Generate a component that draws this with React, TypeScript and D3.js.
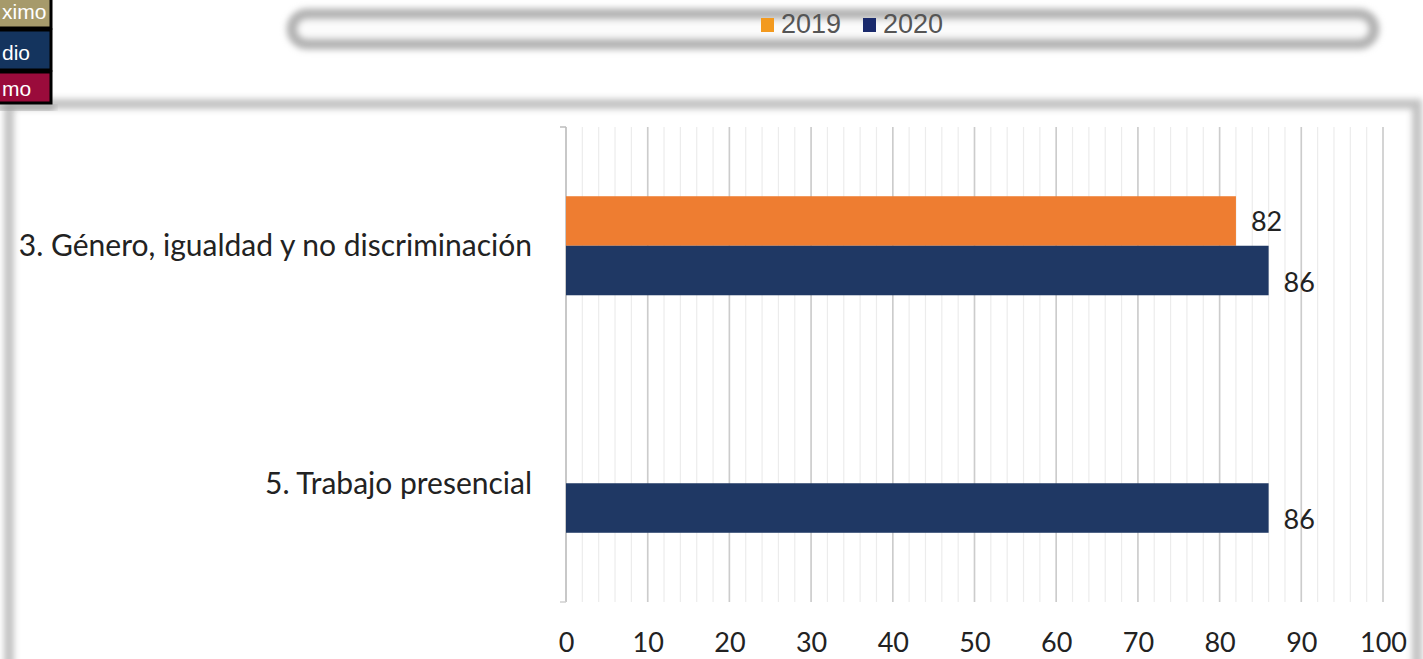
import { useEffect, useRef } from "react";
import * as d3 from "d3";

const width = 1423;
const height = 659;
const margin = { top: 127, right: 40, bottom: 57, left: 566 };

// data
const categories = ["3. Género, igualdad y no discriminación", "5. Trabajo presencial"];
const seriesNames = ["2019", "2020"];
const values2019 = [82, null];
const values2020 = [86, 86];
const xTicks = [0, 10, 20, 30, 40, 50, 60, 70, 80, 90, 100];
const minorTicks = d3.range(0, 101, 2);

const colors: Record<string, string> = { "2019": "#ee7d31", "2020": "#1f3864" };
const labelOffset: Record<string, number> = { "2019": 1, "2020": 12 };

// the cropped boxes at the top-left, only the visible part of the words
const sideBoxes = [
  { label: "ximo", fill: "#a69a6b", y: -3, h: 31, ty: 19 },
  { label: "dio", fill: "#14345e", y: 30, h: 40, ty: 60 },
  { label: "mo", fill: "#9a0b3b", y: 72, h: 31, ty: 96 },
];

const font = "Lato, 'Open Sans', sans-serif";

const App = () => {
  const axisRef = useRef<SVGGElement>(null);

  const plotBottom = height - margin.bottom;

  const xScale = d3.scaleLinear().domain([0, 100]).range([margin.left, 1383]);
  const yScale = d3.scaleBand<string>().domain(categories).range([margin.top, plotBottom]);
  const groupH = yScale.bandwidth() * 0.417;
  const ySub = d3
    .scaleBand<string>()
    .domain(seriesNames)
    .range([yScale.bandwidth() / 2 - groupH / 2, yScale.bandwidth() / 2 + groupH / 2]);

  const rows = categories.map((c, i) => ({
    category: c,
    values: [
      { key: "2019", value: values2019[i] },
      { key: "2020", value: values2020[i] },
    ],
  }));

  useEffect(() => {
    if (!axisRef.current) return;
    const g = d3.select(axisRef.current);
    g.call(d3.axisBottom(xScale).tickValues(xTicks).tickSize(0).tickPadding(0));
    g.select(".domain").remove();
    g.selectAll("text")
      .attr("font-family", font)
      .attr("font-size", 27)
      .attr("fill", "#222")
      .attr("dy", "0.35em")
      .attr("y", 0);
  }, []);

  return (
    <div style={{ position: "fixed", left: 0, top: 0 }}>
      <svg width={width} height={height} style={{ display: "block", background: "#fff" }}>
        <defs>
          <filter id="blur" x="-5%" y="-80%" width="110%" height="260%">
            <feGaussianBlur stdDeviation="3.2" />
          </filter>
          <filter id="blurSmall" x="-5%" y="-5%" width="110%" height="110%">
            <feGaussianBlur stdDeviation="3" />
          </filter>
        </defs>

        {/* outer chart frame */}
        <rect x={9} y={104} width={1408} height={575} fill="none" stroke="#c2c2c2" strokeWidth={10} filter="url(#blurSmall)" />

        {/* legend box */}
        <rect x={292} y={14} width={1082} height={30} rx={15} fill="#fbfbfb" stroke="#b3b3b3" strokeWidth={11} filter="url(#blur)" />
        <g fontFamily="'Liberation Sans', Arial, sans-serif" fontSize={27} fill="#555">
          <rect x={761} y={18} width={13} height={14} fill="#f39a1f" />
          <text x={781} y={33}>2019</text>
          <rect x={863} y={18} width={13} height={14} fill="#1a2a6c" />
          <text x={883} y={33}>2020</text>
        </g>

        {/* cropped side boxes */}
        <rect x={-5} y={105} width={60} height={5} fill="#999" filter="url(#blurSmall)" />
        {sideBoxes.map((b) => (
          <g key={b.label}>
            <rect x={-5} y={b.y} width={56} height={b.h} fill={b.fill} stroke="#000" strokeWidth={3} />
            <text x={2} y={b.ty} fill="#fff" fontFamily="'Liberation Sans', Arial, sans-serif" fontSize={21}>
              {b.label}
            </text>
          </g>
        ))}

        {/* minor gridlines */}
        {minorTicks.map((t) => (
          <line key={"m" + t} x1={xScale(t)} x2={xScale(t)} y1={margin.top} y2={plotBottom} stroke="#ececec" strokeWidth={1.2} />
        ))}
        {/* major gridlines */}
        {xTicks.map((t) => (
          <line key={"M" + t} x1={xScale(t)} x2={xScale(t)} y1={margin.top} y2={plotBottom} stroke={t === 0 ? "#bdbdbd" : "#cccccc"} strokeWidth={1.6} />
        ))}
        <line x1={margin.left - 6} x2={margin.left} y1={margin.top} y2={margin.top} stroke="#bdbdbd" strokeWidth={1.5} />
        <line x1={margin.left - 6} x2={margin.left} y1={plotBottom} y2={plotBottom} stroke="#d0d0d0" strokeWidth={1.5} />

        {/* bars */}
        {rows.map((r) => (
          <g key={r.category} transform={`translate(0, ${yScale(r.category)})`}>
            {r.values
              .filter((v) => v.value != null)
              .map((v) => (
                <g key={v.key}>
                  <rect
                    x={xScale(0)}
                    y={ySub(v.key)}
                    width={xScale(v.value as number) - xScale(0)}
                    height={ySub.bandwidth()}
                    fill={colors[v.key]}
                  />
                  <text
                    x={xScale(v.value as number) + 15}
                    y={(ySub(v.key) as number) + ySub.bandwidth() / 2 + labelOffset[v.key]}
                    dy="0.35em"
                    fontFamily={font}
                    fontSize={27}
                    fill="#222"
                  >
                    {v.value}
                  </text>
                </g>
              ))}
          </g>
        ))}

        {/* category labels */}
        {categories.map((c) => (
          <text
            key={c}
            x={margin.left - 34}
            y={(yScale(c) as number) + yScale.bandwidth() / 2}
            dy="0.35em"
            textAnchor="end"
            fontFamily={font}
            fontSize={30}
            fill="#222"
          >
            {c}
          </text>
        ))}

        <g ref={axisRef} transform={`translate(0, ${643})`} />
      </svg>
    </div>
  );
};

export default App;
